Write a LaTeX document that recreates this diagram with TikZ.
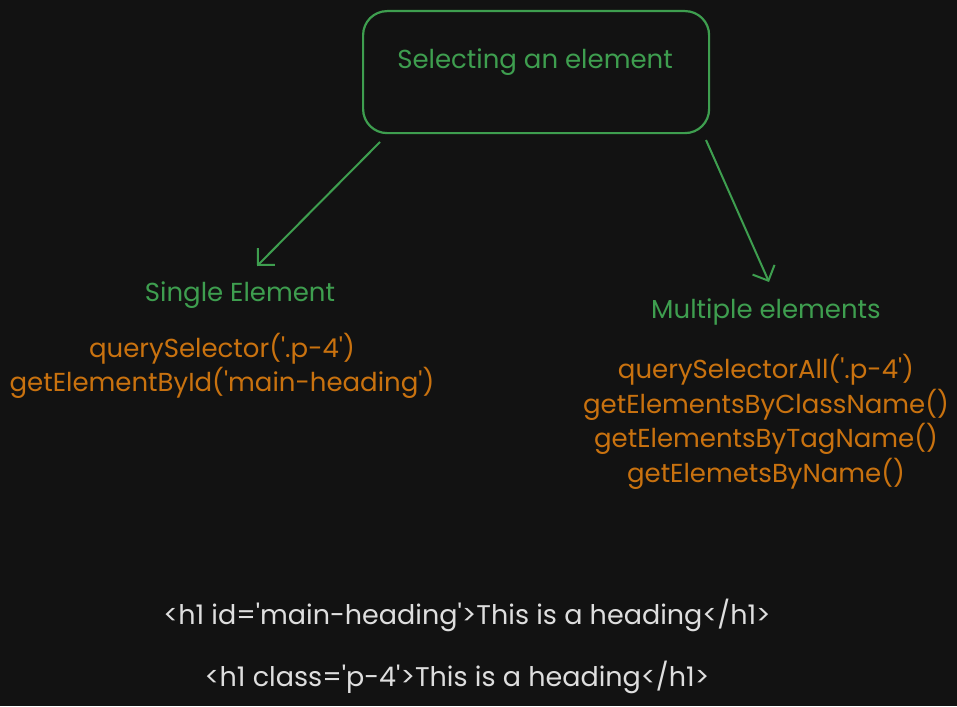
\documentclass[tikz,border=0pt]{standalone}
\usepackage{fontspec}
\setmainfont{Poppins}
\usetikzlibrary{arrows.meta, positioning}

\definecolor{bg}{HTML}{121212}
\definecolor{sketchgreen}{HTML}{3E9E4F}
\definecolor{codeorange}{HTML}{C9720F}
\definecolor{plaingrey}{HTML}{DEDEDE}
\newcommand{\q}{\textquotesingle}

\tikzset{
  heading/.style = {text=sketchgreen, font=\fontsize{26}{34.5}\selectfont, inner sep=0pt},
  codeline/.style = {text=codeorange, font=\fontsize{26}{34.5}\selectfont, inner sep=0pt, align=center},
  markup/.style = {text=plaingrey, font=\fontsize{27}{34.5}\selectfont, inner sep=0pt},
  arr/.style = {draw=sketchgreen, line width=2pt, -{Straight Barb[length=12pt, width=24pt, line width=2pt]}}
}

\begin{document}
\begin{tikzpicture}[x=1pt, y=-1pt]
\fill[bg] (0,0) rectangle (957,706);
\useasboundingbox (0,0) rectangle (957,706);

% title box
\node (title) [draw=sketchgreen, line width=2.2pt, rounded corners=24pt,
  minimum width=346pt, minimum height=122pt, anchor=north west] at (362,10) {};
\node (title-txt) [heading] at (535,62) {Selecting an element};

% left branch
\node (single) [heading] at (240,295) {Single Element};
\node (single-code) [codeline] at (222,366) {querySelector(\q.p-4\q)\\getElementById(\q main-heading\q)};

% right branch
\node (multi) [heading] at (766,312) {Multiple elements};
\node (multi-code) [codeline] at (766,422) {querySelectorAll(\q.p-4\q)\\getElementsByClassName()\\getElementsByTagName()\\getElemetsByName()};

% connectors
\coordinate (l-start) at (380,142);
\coordinate (l-end) at (257,266);
\coordinate (r-start) at (706,140);
\coordinate (r-end) at (769,282);
\draw[arr] (l-start) -- (l-end);
\draw[arr] (r-start) -- (r-end);

% html samples
\node (h-id) [markup] at (467,615) {<h1 id=\q main-heading\q>This is a heading</h1>};
\node (h-class) [markup] at (457,677) {<h1 class=\q p-4\q>This is a heading</h1>};
\end{tikzpicture}
\end{document}
